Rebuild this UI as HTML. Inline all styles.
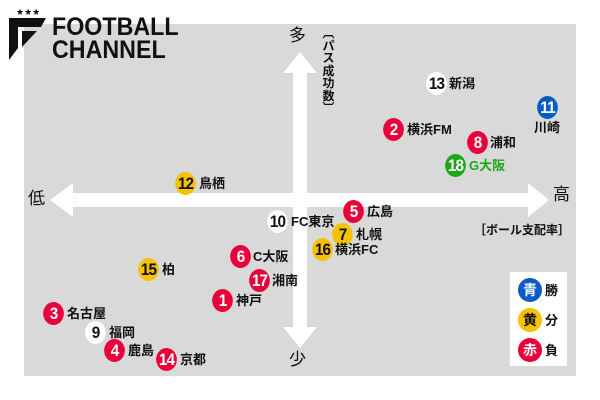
<!DOCTYPE html>
<html><head><meta charset="utf-8"><style>
body{margin:0;width:600px;height:400px;background:#fff;position:relative;overflow:hidden;font-family:"Liberation Sans","Noto Sans CJK JP",sans-serif}
.c{position:absolute;width:23px;height:23px;border-radius:50%;color:#fff;font:bold 17px/23px "Liberation Sans Narrow","Liberation Sans",sans-serif;text-align:center;letter-spacing:-1px;transform:scaleX(.9)}
.r{background:#e8003a}.y{background:#f6c200;color:#111}.w{background:#fff;color:#111}.b{background:#0a5bc4}.g{background:#1aa81a}
.t{position:absolute;font:bold 13px/15px "Liberation Sans","Noto Sans CJK JP",sans-serif;color:#111;white-space:nowrap}
.lg{position:absolute;width:24px;height:24px;border-radius:50%;font:bold 14px/24px "Noto Sans CJK JP",sans-serif;text-align:center}
.logo{position:absolute;left:52px;font:900 25px/25px 'Liberation Sans',sans-serif;color:#111;transform-origin:0 0;transform:scaleX(.93)}
</style></head><body>
<div style="position:absolute;left:24px;top:24px;width:552px;height:352px;background:#d9d9d9"></div>
<svg style="position:absolute;left:0;top:0" width="600" height="400">
<polygon fill="#fff" points="293,73 283,73 300,52 317,73 307,73 307,193 528,193 528,183 549,200 528,217 528,207 307,207 307,327 317,327 300,348 283,327 293,327 293,207 73,207 73,217 50,200 73,183 73,193 293,193"/>
<polygon fill="#111" points="9,18 46,18 41,27 18,27 18,48 9,60"/>
<polygon fill="#111" points="22,31 37,31 22,47"/>
<text x="16" y="15" font-size="9" fill="#111" font-family="DejaVu Sans">★★★</text>
</svg>
<div class="logo" style="top:15px">FOOTBALL</div>
<div class="logo" style="top:38px">CHANNEL</div>
<div class="t" style="left:289px;top:28px;font-size:17px;font-weight:normal">多</div>
<div class="t" style="left:289px;top:352px;font-size:17px;font-weight:normal">少</div>
<div class="t" style="left:28px;top:191px;font-size:17px;font-weight:normal">低</div>
<div class="t" style="left:553px;top:187px;font-size:17px;font-weight:normal">高</div>
<div class="t" style="left:322px;top:27px;width:13px;text-align:center;white-space:normal;font-family:'Noto Sans CJK JP',sans-serif;font-size:12px;line-height:12.5px">︹<br>パ<br>ス<br>成<br>功<br>数<br>︺</div>
<div class="t" style="left:474px;top:223px;font-size:12px">［ボール支配率］</div>

<div class="c w" style="left:425px;top:72px">13</div><div class="t" style="left:449px;top:76px">新潟</div>
<div class="c b" style="left:536px;top:96px">11</div><div class="t" style="left:534px;top:120px">川崎</div>
<div class="c r" style="left:382px;top:118px">2</div><div class="t" style="left:407px;top:122px">横浜FM</div>
<div class="c r" style="left:466px;top:131px">8</div><div class="t" style="left:490px;top:135px">浦和</div>
<div class="c g" style="left:444px;top:154px">18</div><div class="t" style="left:469px;top:158px;color:#1aa81a">G大阪</div>
<div class="c y" style="left:174px;top:172px">12</div><div class="t" style="left:199px;top:176px">鳥栖</div>
<div class="c w" style="left:266px;top:210px">10</div><div class="t" style="left:291px;top:214px">FC東京</div>
<div class="c r" style="left:342px;top:200px">5</div><div class="t" style="left:367px;top:204px">広島</div>
<div class="c y" style="left:331px;top:223px">7</div><div class="t" style="left:356px;top:227px">札幌</div>
<div class="c y" style="left:311px;top:238px">16</div><div class="t" style="left:335px;top:242px">横浜FC</div>
<div class="c r" style="left:229px;top:245px">6</div><div class="t" style="left:253px;top:249px">C大阪</div>
<div class="c r" style="left:248px;top:269px">17</div><div class="t" style="left:272px;top:273px">湘南</div>
<div class="c r" style="left:211px;top:289px">1</div><div class="t" style="left:236px;top:293px">神戸</div>
<div class="c y" style="left:137px;top:258px">15</div><div class="t" style="left:162px;top:262px">柏</div>
<div class="c r" style="left:42px;top:302px">3</div><div class="t" style="left:67px;top:306px">名古屋</div>
<div class="c w" style="left:84px;top:321px">9</div><div class="t" style="left:109px;top:325px">福岡</div>
<div class="c r" style="left:103px;top:339px">4</div><div class="t" style="left:128px;top:343px">鹿島</div>
<div class="c r" style="left:155px;top:348px">14</div><div class="t" style="left:180px;top:352px">京都</div>

<div style="position:absolute;left:510px;top:272px;width:57px;height:94px;background:#fff"></div>
<div class="lg" style="left:518px;top:278px;background:#0a5bc4;color:#fff">青</div><div class="t" style="left:545px;top:283px">勝</div>
<div class="lg" style="left:518px;top:308px;background:#f6c200;color:#111">黄</div><div class="t" style="left:545px;top:313px">分</div>
<div class="lg" style="left:518px;top:338px;background:#e8003a;color:#fff">赤</div><div class="t" style="left:545px;top:343px">負</div>
</body></html>
